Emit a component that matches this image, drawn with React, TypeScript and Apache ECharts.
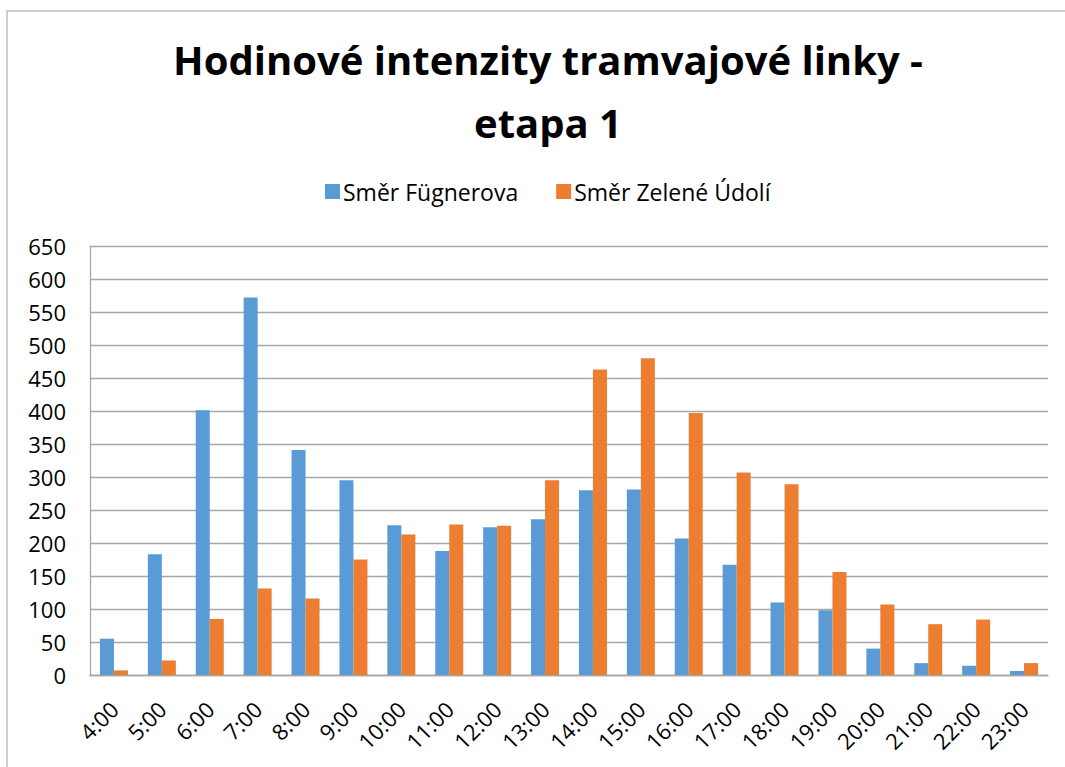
import React, { useEffect, useRef } from "react";
import * as echarts from "echarts";

const categories = ["4:00","5:00","6:00","7:00","8:00","9:00","10:00","11:00","12:00","13:00","14:00","15:00","16:00","17:00","18:00","19:00","20:00","21:00","22:00","23:00"];
const fugnerova = [55,183,401,572,341,295,227,188,224,236,280,281,207,167,110,98,40,18,14,6];
const zeleneUdoli = [7,22,85,131,116,175,213,228,226,295,463,480,397,307,289,156,107,77,84,18];
const seriesNames = ["Směr Fügnerova", "Směr Zelené Údolí"];
const titleText = "Hodinové intenzity tramvajové linky -\netapa 1";

const FONT = "'Open Sans', sans-serif";

export default function App() {
  const ref = useRef<HTMLDivElement>(null);
  useEffect(() => {
    if (!ref.current) return;
    const chart = echarts.init(ref.current, null, { renderer: "svg" });
    chart.setOption({
      animation: false,
      backgroundColor: "#ffffff",
      textStyle: { fontFamily: FONT },
      title: {
        text: titleText,
        left: 543,
        textAlign: "center",
        top: 23,
        textStyle: {
          fontFamily: FONT,
          fontSize: 40,
          fontWeight: "bold",
          color: "#000",
          lineHeight: 63,
        },
      },
      legend: {
        top: 175,
        left: 320,
        itemWidth: 15,
        itemHeight: 15,
        itemGap: 38,
        icon: "rect",
        textStyle: { fontFamily: FONT, fontSize: 23, color: "#000", padding: [0, 0, 0, -2] },
        data: seriesNames,
      },
      graphic: [
        {
          type: "rect",
          shape: { x: 7, y: 11, width: 1200, height: 900 },
          style: { fill: "none", stroke: "#c0c0c0", lineWidth: 1.5 },
          silent: true,
        },
      ],
      grid: { left: 90, right: 17, top: 246, bottom: 92 },
      xAxis: {
        type: "category",
        data: categories,
        axisLine: { show: true, lineStyle: { color: "#a6a6a6", width: 1.3 } },
        axisTick: { show: false },
        axisLabel: {
          rotate: 45,
          fontFamily: FONT,
          fontSize: 22,
          color: "#000",
          margin: 30,
          interval: 0,
        },
      },
      yAxis: {
        type: "value",
        min: 0,
        max: 650,
        interval: 50,
        axisLine: { show: true, lineStyle: { color: "#a6a6a6", width: 1.3 } },
        axisTick: { show: false },
        axisLabel: { fontFamily: FONT, fontSize: 22, color: "#000", margin: 24 },
        splitLine: { show: true, lineStyle: { color: "#a6a6a6", width: 1.3 } },
      },
      series: [
        {
          name: seriesNames[0],
          type: "bar",
          data: fugnerova,
          barWidth: 14,
          barGap: "0%",
          itemStyle: { color: "#5B9BD5" },
        },
        {
          name: seriesNames[1],
          type: "bar",
          data: zeleneUdoli,
          barWidth: 14,
          barGap: "0%",
          itemStyle: { color: "#ED7D31" },
        },
      ],
    });
    return () => chart.dispose();
  }, []);
  return (
    <div
      ref={ref}
      style={{ position: "fixed", left: 0, top: 0, width: 1065, height: 767 }}
    />
  );
}
